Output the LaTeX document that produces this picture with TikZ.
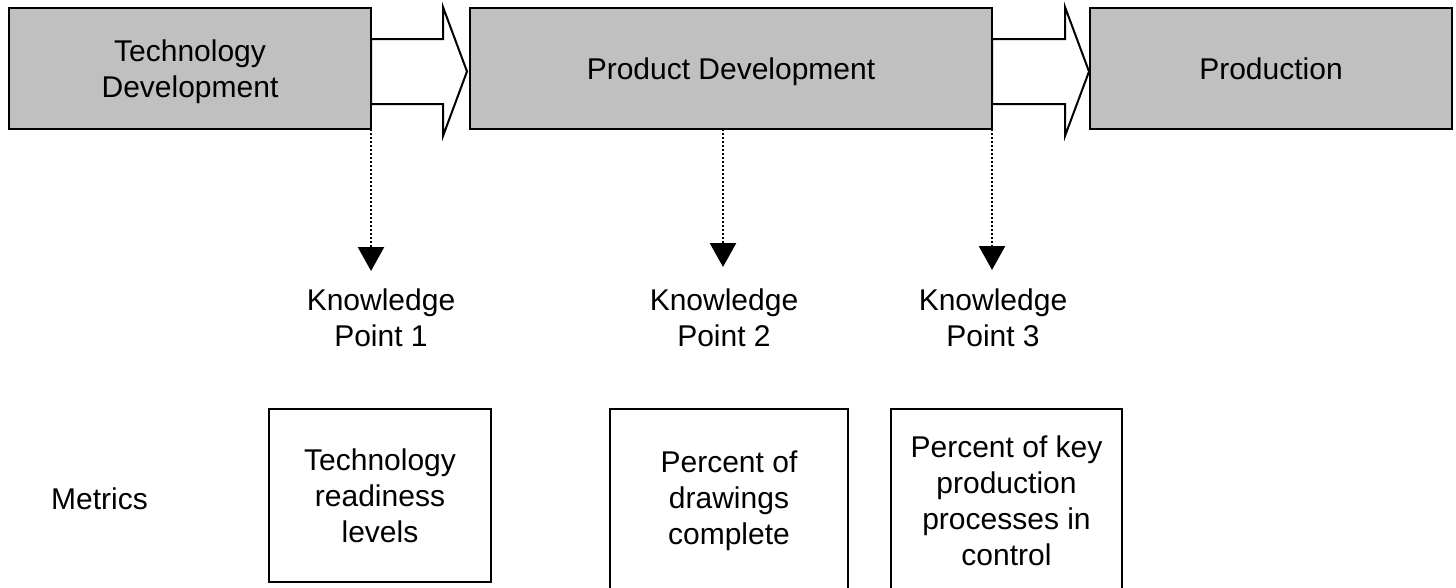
\documentclass[tikz,border=0pt]{standalone}
\usepackage{fontspec}
\setmainfont{Liberation Sans}
\usetikzlibrary{arrows.meta,calc}
\definecolor{phasegray}{HTML}{C0C0C0}
\begin{document}
\begin{tikzpicture}[x=1pt,y=-1pt,
  every node/.style={font=\fontsize{30}{36}\selectfont, align=center, inner sep=0pt, outer sep=0pt},
  phase/.style={draw=black, line width=2.5pt, fill=phasegray, minimum height=121pt, text depth=0pt},
  metric/.style={draw=black, line width=2.5pt, fill=white},
  blockarrow/.style={draw=black, line width=2pt, fill=white, line join=miter},
  kparrow/.style={line width=2.5pt, dash pattern=on 2pt off 2pt, -{Triangle[length=24pt,width=26pt]}},
]
\path[use as bounding box, clip] (0,0) rectangle (1456,587);
\fill[white] (0,0) rectangle (1456,587);

% phases
\node[phase, minimum width=362pt] (td) at (190,68.5) {Technology\\Development};
\node[phase, minimum width=522pt] (pd) at (731,68.5) {Product Development};
\node[phase, minimum width=362pt] (pr) at (1271,68.5) {Production};

% block arrows
\draw[blockarrow] ($(td.east)+(0,-29.5)$) -- ($(td.east)+(72,-29.5)$) -- ($(td.east)+(72,-61.5)$)
  -- ($(pd.west)+(-3,3)$) -- ($(td.east)+(72,67.5)$) -- ($(td.east)+(72,35.5)$)
  -- ($(td.east)+(0,35.5)$) -- cycle;
\draw[blockarrow] ($(pd.east)+(0,-29.5)$) -- ($(pd.east)+(73,-29.5)$) -- ($(pd.east)+(73,-61.5)$)
  -- ($(pr.west)+(-1,3)$) -- ($(pd.east)+(73,67.5)$) -- ($(pd.east)+(73,35.5)$)
  -- ($(pd.east)+(0,35.5)$) -- cycle;

% knowledge points
\coordinate (k1) at (371,271);
\coordinate (k2) at (723,267);
\coordinate (k3) at (992,270);
\draw[kparrow] (td.south east) -- (k1);
\draw[kparrow] (k2 |- pd.south) -- (k2);
\draw[kparrow] (pd.south east) -- (k3);

\node (kp1) at (381,317.5) {Knowledge\\Point 1};
\node (kp2) at (724,317.5) {Knowledge\\Point 2};
\node (kp3) at (993,317.5) {Knowledge\\Point 3};

% metrics
\node (met) at (99.5,499) {Metrics};
\node[metric, minimum width=222pt, minimum height=173pt] (m1) at (380,495.5) {Technology\\readiness\\levels};
\node[metric, minimum width=238pt, minimum height=183pt] (m2) at (729,500.5) {Percent of\\drawings\\complete};
\node[metric, minimum width=231pt, minimum height=183pt] (m3) at (1006.5,500.5) {Percent of key\\production\\processes in\\control};
\end{tikzpicture}
\end{document}
